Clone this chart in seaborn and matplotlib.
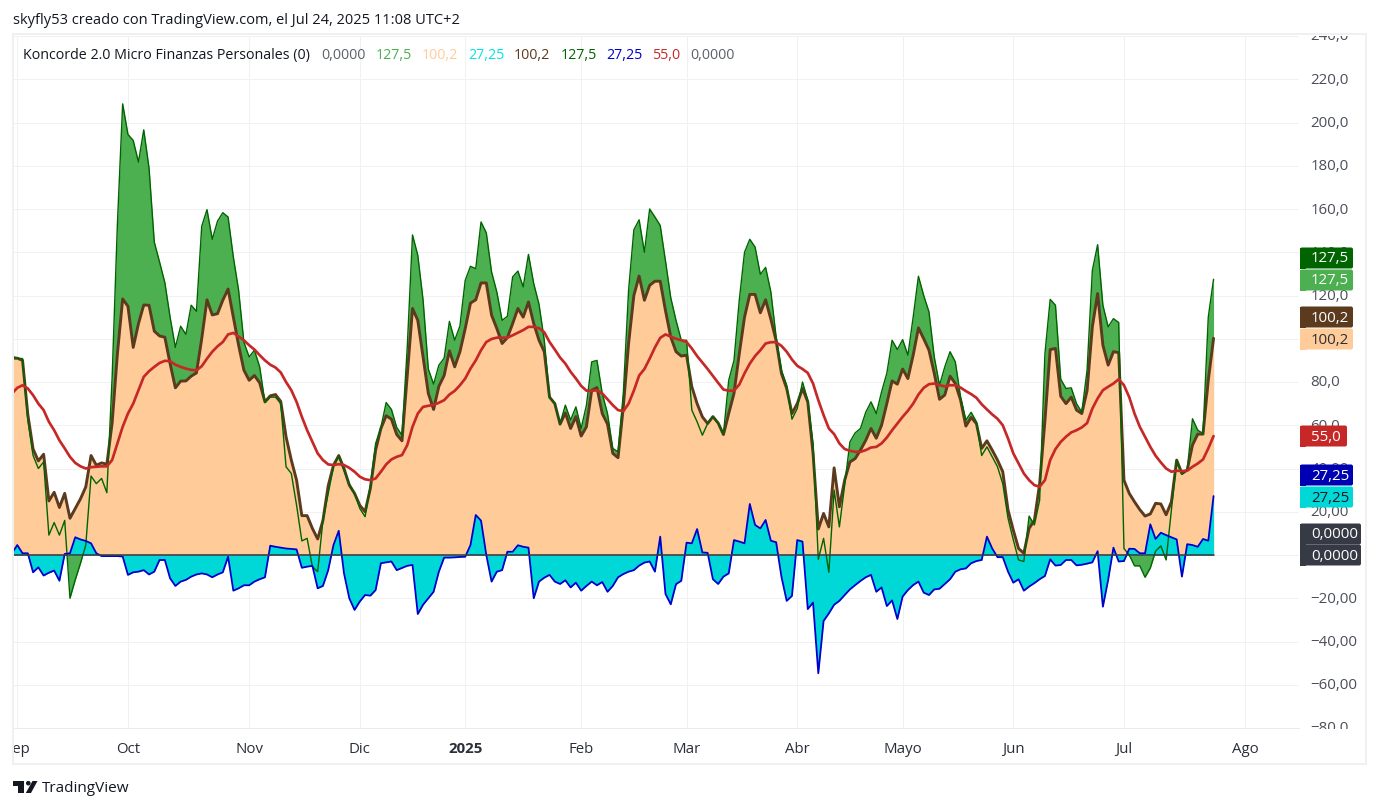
import numpy as np
import pandas as pd
import matplotlib
matplotlib.use("Agg")
import matplotlib.pyplot as plt
from matplotlib.patches import Rectangle, Polygon, Circle, FancyBboxPatch
from matplotlib.transforms import ScaledTranslation
import seaborn as sns

# Koncorde oscillator series, one value per trading session
verde = [92,91,90.8,62.4,46,40,43,9.2,15,9.2,
         16,-20,-11.5,-3.8,4.6,36.5,33,35.4,28.8,82,
         153,208.6,194.5,191.7,181.7,196.6,179,144.7,135.5,126,
         110,96,105.8,102,115.5,112.7,152,159.7,146,154.4,
         158.3,156.3,137.8,122.4,98.5,91.6,94.7,87,70.5,73,
         73,70,40.8,37.7,23,6.5,7.7,-5.4,-7.7,16,
         28.5,40.8,45.7,39,33,28.5,21.5,17.7,32.3,51.6,
         59,70.5,67.3,59,55.4,96,148,138.6,118,86,
         79,87.8,91,108,99.3,106,127,133.5,132.4,154,
         149,130.9,121.6,108.5,110.4,128.6,131.3,124,139,125.5,
         116,99.3,73,70,60.8,69.3,62.4,68.5,58.5,69.3,
         89.3,90,74.7,65.4,49.3,47.7,74.7,122.4,150.4,155,
         140,160,156.3,152.4,136,119,108.5,99.3,99.3,67,
         61.6,55.4,60.8,63.9,61,56,80.8,90,117.8,140,
         146,142.4,129.8,133,121.6,100.8,85.5,78.5,62.8,67.7,
         80,71.6,51.6,-2,7.7,-8,30,13,32.3,52.3,
         56.5,58.5,66,70.8,65.4,75.4,84,99.3,95,99.6,
         92.4,110,128.9,120,112.4,91.6,78.5,87,94,89.3,
         73,62.4,66,61.6,46,50,45.4,40.8,33,17,
         7,-2.3,-3,18,13.9,25.4,93,118.2,115.5,81.3,
         77,77.3,70,66,85.5,131.6,143.5,115.5,105.5,109.3,
         107.5,3,0,-5,-5,-10.3,-6,1.8,4.2,-2.3,
         20.8,43.9,37.3,39.3,63,57.7,56.2,110,127.5]

marron = [91,91,90,65,49,43.5,46.6,25,29,22,
          28.5,17,21.5,26,31.5,46,41.5,42.6,42,61,
          93,118.4,115,96,107,115.6,115.5,103.5,101.3,100.7,
          88.5,77.3,80.4,80.5,82.7,84.2,100,118,111,111.6,
          117.8,123,110,97,85.5,80.8,83,79.6,70.8,73.6,
          74.2,71,54.7,43.9,34.6,18.2,18.2,12.3,7.4,16,
          32,41.5,46,40,32.3,28.5,23,20,30.8,48.5,
          58.5,64.4,62.8,55.7,52.8,83,114,108.5,91.6,74.7,
          67.3,78,83,94.4,87,94,104.7,116.5,118,125.8,
          125.8,110.9,104.7,97.8,100.5,107,114,110,117,107,
          99.3,94,73,70,60.5,65.7,58.5,64,55,59.3,
          76.2,77.4,65.4,60.5,47,45,68.5,97.8,120,129,
          117.8,124.7,126.6,126.6,113,100.8,94,92,92.4,77.8,
          70,63.9,60.8,64,61,55.7,65.4,74.7,93,110,
          120.5,120.5,112,118,109,99,84,77,65.4,70,
          77,70.8,47,12,19.2,13,40.3,22.3,34.6,43,
          44.6,48.5,53,58.5,54,60,70,80.5,79,86,
          81.6,92.4,105,100,94.7,84,72,74,82.7,79.3,
          71.6,59.6,63.6,60.8,49.3,52.8,48.5,43.9,38.5,20.8,
          11.5,3,0.8,12.3,16,33,62,95,95.5,73.4,
          70,73,67,65.4,76,105.5,120.9,97,87.8,94,
          93.6,34.6,28.5,24.6,21,18,19,23.9,23.6,18.6,
          24.6,43.9,37.7,39.3,50.8,55.9,55.9,80.8,100.2]

azul = [0.8,4.6,0.8,0.8,-8,-5.7,-9.5,-8.2,-7.2,-11.9,
        0.5,0.8,8.2,7.2,6.5,5.4,0.8,-0.5,-0.5,-0.5,
        -0.5,-0.7,-9.2,-8,-7.7,-7,-9,-7.7,-2.3,-2.3,
        -10.8,-14.3,-12.3,-11.5,-10,-9,-8.5,-9,-10.3,-9,
        -8,-0.8,-16.5,-15.4,-14,-14,-12.3,-11.2,-10.3,4.3,
        3.8,3.4,3,2.8,2.6,-5.9,-5.4,-5,-15.4,-14.3,
        -7,4.6,11.2,-8.5,-20,-25.4,-21.5,-18.5,-18.8,-16.2,
        -3.8,-3.4,-3,-7,-6,-5,-4.6,-27.3,-23,-20,
        -17,-7.7,-1.2,-1.2,-1.1,-0.9,-0.8,4.6,18.5,15.9,
        0,-12.3,-7.7,-7,1.5,1.5,4.5,3.8,3.4,-20,
        -12.3,-10.5,-9.2,-12.3,-13.4,-11.7,-15,-12.8,-16.5,-14.3,
        -12.3,-14,-12.5,-17,-14.3,-10.3,-8.8,-7.7,-7,-4.9,
        -3.5,-3,-7.7,8.5,-18,-22.8,-13.5,-11.9,5.7,5.4,
        12,1.2,1,-11.2,-13.4,-10,-8.5,6.9,6.2,5.4,
        23.6,13.9,12.3,16.2,6.6,5.9,-10,-21.2,-18.9,6.9,
        6.2,-25,-22,-54.7,-30.5,-27,-23,-21.2,-18.5,-15.9,
        -13.9,-12,-10.3,-9.2,-17,-15,-23.6,-21,-29.6,-19.2,
        -16.2,-13.9,-12.3,-17.4,-18.5,-15.9,-15.6,-13.4,-11.2,-7.7,
        -6.6,-6.2,-3.8,-2.8,-2.3,8.5,3,-1,-1,-7.7,
        -12.8,-11.2,-16.5,-14.6,-13,-11.2,-9.7,-2,-4.9,-4.6,
        -2.3,-2.3,-4.8,-4.5,-4,-3.4,1.8,-23.9,-11.5,3.4,
        -3,-2.8,2.9,2.8,0.8,0.8,14.2,7.4,10.3,9.2,
        8.2,7.2,-10,5,4.6,3.8,7.4,6.6,27.25]

media = [74.7,77.3,78.5,77,73.9,70,67,61.6,57.7,53,
         49.3,45.4,42.6,41,40,40.6,40.8,41,41,43.9,
         51.6,59.3,65.4,70,76.2,82.4,85,87,88.8,89.8,
         89.6,88,87,86.2,85.6,85.4,87.3,90.8,94,96.5,
         98.5,102,102.7,101,99.3,97,95,92.4,90,88,
         86.7,84.4,80,76.2,70.8,63.9,57.7,52.3,47,43.9,
         41.9,41.6,42,41.6,40.3,38.5,36.2,35,34.6,35.4,
         38.5,41.9,44.2,45.4,46.2,50.8,59.3,65.4,68.5,69,
         69.4,70.4,71.6,74.2,75.9,78.5,81.6,86.2,90,94.7,
         98.5,99.9,100.5,100.5,100.5,101.6,102.8,104,105.5,105.5,
         104.9,103,98.5,95,91.3,88.5,84.7,81.6,78.2,76,
         75.9,76.2,74.7,72,69.3,67,66.5,70,76,83,
         86,90.8,96,100.4,102,101,100,99.3,98.5,95.5,
         92,89,86,82.8,79.6,76.5,76,76,78.8,84,
         88.5,92,94.7,97.8,98.4,98.4,96.7,94,90.4,87.5,
         86,84.2,79.3,71.6,64.7,58.5,55.9,51.6,49,48.2,
         47.7,47.7,48.5,49.7,50,51.6,54.3,57.7,60.8,63.9,
         66.7,70,74.2,77.3,79,79.3,78.5,78,78.5,78.5,
         77.4,75.8,74.4,72.7,69.7,67.3,65,63,60,53.9,
         47,42.3,37.7,34.6,32.3,31.6,34.6,43.9,49,52.3,
         54.7,56.7,57.7,59,61,67.7,72.4,76.2,77.8,79.3,
         81.3,78.5,73,65.4,59.3,54.7,50,45.9,42.8,40,
         38.5,39,38.8,39,40.8,42.3,44.2,49.3,55]

mes_etiquetas = ["Sep", "Oct", "Nov", "Dic", "2025", "Feb", "Mar", "Abr", "Mayo", "Jun", "Jul", "Ago"]
mes_sesiones = [1, 22, 45, 66, 86, 108, 128, 149, 169, 190, 211, 234]
precio_marcas = [240, 220, 200, 180, 160, 140, 120, 100, 80, 60, 40, 20, 0, -20, -40, -60, -80]
precio_etiquetas = ["240,0", "220,0", "200,0", "180,0", "160,0", "140,0", "120,0", "", "80,0",
                    "60,0", "40,00", "20,00", "", "\u221220,00", "\u221240,00", "\u221260,00", "\u221280,0"]

VERDE, VERDE_OSC = "#4CAF50", "#006400"
PIEL, MARRON = "#FFCC99", "#5B3A1E"
CIAN, AZUL = "#00D8D8", "#0000CC"
ROJO, GRIS = "#C62828", "#363A45"
REJILLA = "#F0F1F3"
MARCO = "#F0F0F0"
TINTA = "#2A2E39"

W, H = 1379, 809
sns.set_theme(style="white")
plt.rcParams["font.family"] = ["Open Sans", "DejaVu Sans"]
PX = 0.72  # one pixel in points at 100 dpi
PASO = 5.27  # pixels per session

fig = plt.figure(figsize=(W / 100, H / 100), dpi=100, facecolor="white")
ax = fig.add_axes([13 / W, 1 - 728 / H, (1299 - 13) / W, (728 - 36) / H])

df = pd.DataFrame({"sesion": np.arange(len(verde)), "verde": verde, "marron": marron,
                   "azul": azul, "media": media})

ax.fill_between(df.sesion, df.verde, 0, color=VERDE, lw=0, zorder=2)
ax.fill_between(df.sesion, df.marron, 0, color=PIEL, lw=0, zorder=3)
ax.fill_between(df.sesion, df.azul, 0, color=CIAN, lw=0, zorder=4)

sns.lineplot(data=df, x="sesion", y="marron", color=MARRON, lw=2.9 * PX, ax=ax, zorder=5, errorbar=None)
sns.lineplot(data=df, x="sesion", y="verde", color=VERDE_OSC, lw=1.4 * PX, ax=ax, zorder=6, errorbar=None)
sns.lineplot(data=df, x="sesion", y="azul", color=AZUL, lw=1.8 * PX, ax=ax, zorder=7, errorbar=None)
sns.lineplot(data=df, x="sesion", y="media", color=ROJO, lw=2.7 * PX, ax=ax, zorder=8, errorbar=None)
ax.plot([df.sesion.iloc[0], df.sesion.iloc[-1]], [0, 0], color=GRIS, lw=1.6 * PX, zorder=9)

ax.set_xlim((13 - 12) / PASO, (1299 - 12) / PASO)
ax.set_ylim((555 - 728) / 2.165, (555 - 36) / 2.165)
ax.set_xlabel("")
ax.set_ylabel("")
ax.set_xticks(mes_sesiones, mes_etiquetas)
ax.set_yticks(precio_marcas, precio_etiquetas)
ax.yaxis.tick_right()
ax.grid(True, color=REJILLA, lw=1 * PX, zorder=0)
ax.set_axisbelow(True)
ax.tick_params(axis="x", length=0, pad=10, labelsize=10.8, labelcolor=TINTA)
ax.tick_params(axis="y", length=0, pad=8.2, labelsize=10.8, labelcolor="#4A4E59")
bajar = ScaledTranslation(0, -1 / 100, fig.dpi_scale_trans)
for lab in ax.get_xticklabels():
    if lab.get_text() == "2025":
        lab.set_fontweight("bold")
for lab in ax.get_yticklabels():
    lab.set_verticalalignment("center")
    lab.set_transform(lab.get_transform() + bajar)
for s in ax.spines.values():
    s.set_visible(False)
ax.spines["bottom"].set_visible(True)
ax.spines["bottom"].set_color("#E8EAEE")
ax.spines["bottom"].set_linewidth(1 * PX)

# Pixel-addressed overlay for the chart frame, value badges, legend and footer
ov = fig.add_axes([0, 0, 1, 1], zorder=10)
ov.set_xlim(0, W)
ov.set_ylim(H, 0)
ov.axis("off")
ov.patch.set_alpha(0)

# Tick labels stop at the price pane's edges and the frame's left side
ov.add_patch(Rectangle((1300, 20), 65, 15.5, fc="white", ec="none", zorder=1))
ov.add_patch(Rectangle((1300, 729), 65, 25, fc="white", ec="none", zorder=1))
ov.add_patch(Rectangle((0, 735), 13, 25, fc="white", ec="none", zorder=1))
ov.add_patch(Rectangle((12.5, 34), 1366 - 12.5, 764 - 34, fc="none", ec=MARCO, lw=2 * PX, zorder=2))

badges = [
    (258, 1353, "127,5", VERDE_OSC, "white"),
    (280, 1353, "127,5", VERDE, "white"),
    (317, 1353, "100,2", MARRON, "white"),
    (339, 1353, "100,2", PIEL, "#2A2E39"),
    (436, 1347, "55,0", ROJO, "white"),
    (475, 1353, "27,25", "#0000B3", "white"),
    (497, 1353, "27,25", CIAN, "#131722"),
    (534, 1361, "0,0000", GRIS, "white"),
    (555, 1361, "0,0000", GRIS, "white"),
]
for yc, xr, txt, bg, fg in badges:
    ov.add_patch(FancyBboxPatch((1300, yc - 10.5), xr - 1300, 21,
                                boxstyle="round,pad=0,rounding_size=2", fc=bg, ec="none", zorder=3))
    ov.add_patch(Rectangle((1300, yc - 10.5), 6, 21, fc=bg, ec="none", zorder=3))
    ov.text(1311, yc + 1, txt, color=fg, fontsize=10.8, va="center", ha="left", zorder=4)

ov.text(13, 20, "skyfly53 creado con TradingView.com, el Jul 24, 2025 11:08 UTC+2",
        fontsize=10.55, color="#131722", va="center", ha="left")

leyenda = [
    (23, "Koncorde 2.0 Micro Finanzas Personales (0)", "#131722"),
    (321, "0,0000", "#5D606B"),
    (376, "127,5", VERDE),
    (422, "100,2", PIEL),
    (468, "27,25", "#00E5E5"),
    (514, "100,2", MARRON),
    (561, "127,5", VERDE_OSC),
    (606, "27,25", AZUL),
    (652, "55,0", ROJO),
    (690, "0,0000", "#5D606B"),
]
for xl, txt, col in leyenda:
    ov.text(xl, 55, txt, fontsize=10.3, color=col, va="center", ha="left")

# TradingView wordmark
ov.add_patch(Polygon([(13, 781), (24, 781), (24, 793), (18, 793), (18, 785.5), (13, 785.5)], fc="#131722", ec="none"))
ov.add_patch(Circle((28.3, 783.2), 2.3, fc="#131722", ec="none"))
ov.add_patch(Polygon([(32.5, 781), (37.5, 781), (31, 793), (25.8, 793)], fc="#131722", ec="none"))
ov.text(42, 788, "TradingView", fontsize=11, color="#131722", va="center", ha="left")

fig.savefig("out.png", dpi=100, facecolor="white")
